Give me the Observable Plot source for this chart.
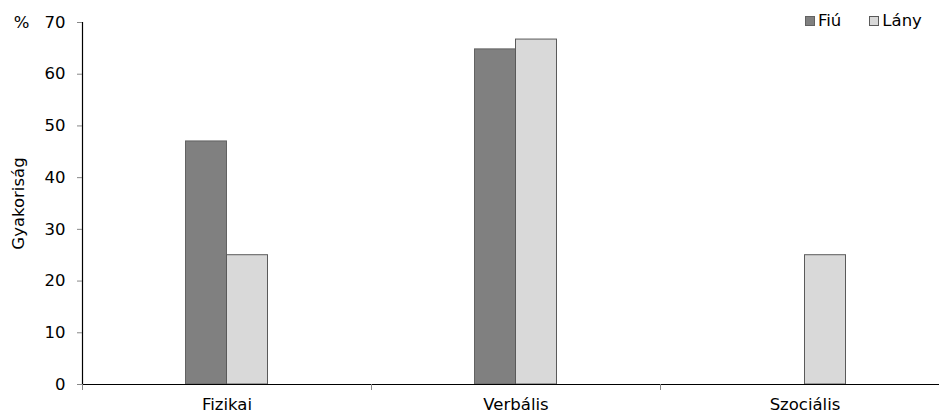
<!DOCTYPE html>
<html><head><meta charset="utf-8">
<script src="https://cdn.jsdelivr.net/npm/d3@7"></script>
<script src="https://cdn.jsdelivr.net/npm/@observablehq/plot@0.6"></script>
<style>
body{margin:0;background:#fff;font-family:"DejaVu Sans",sans-serif;}
#wrap{position:relative;width:939px;height:418px;overflow:hidden;}
.legend{position:absolute;top:12px;left:805px;display:flex;font-size:16.5px;line-height:18px;color:#000;}
.legend .item{display:flex;align-items:center;margin-right:28px;}
.legend .sw{width:10px;height:10px;margin-right:3px;box-sizing:border-box;}
</style></head><body><div id="wrap"></div>
<script>
const categories = ["Fizikai", "Verbális", "Szociális"];
const series = ["Fiú", "Lány"];
const fiuValues = [47, 64.8, 0];
const lanyValues = [25, 66.7, 25];
const yTicks = [0, 10, 20, 30, 40, 50, 60, 70];
const fills = {"Fiú": "#808080", "Lány": "#d9d9d9"};
const strokes = {"Fiú": "#626262", "Lány": "#5a5a5a"};

const data = categories.flatMap((c, i) => [
  {category: c, sex: "Fiú", value: fiuValues[i]},
  {category: c, sex: "Lány", value: lanyValues[i]}
]);

const W = 939, H = 418;
const xRange = [82, 949];
const step = (xRange[1] - xRange[0]) / categories.length;
const groupWidth = 82;
const pin = 1 - groupWidth / step;

const chart = Plot.plot({
  width: W, height: H,
  marginLeft: 82, marginRight: 0, marginTop: 22, marginBottom: 34,
  style: {fontFamily: "DejaVu Sans", fontSize: "16.5px", color: "#000", background: "#fff"},
  x: {domain: categories, range: xRange, paddingInner: pin, paddingOuter: pin / 2, round: false},
  y: {domain: [0, 70]},
  marks: [
    Plot.barY(data.filter(d => d.sex === "Fiú" && d.value > 0), {x: "category", y: "value", fill: fills["Fiú"], stroke: strokes["Fiú"], strokeWidth: 1, insetRight: groupWidth / 2}),
    Plot.barY(data.filter(d => d.sex === "Lány" && d.value > 0), {x: "category", y: "value", fill: fills["Lány"], stroke: strokes["Lány"], strokeWidth: 1, insetLeft: groupWidth / 2}),
    Plot.ruleY([0], {stroke: "#000", strokeWidth: 1.2}),
    Plot.ruleX([categories[0]], {x: d => d, dx: -step / 2, y1: 0, y2: 70, stroke: "#000", strokeWidth: 1.2}),
    Plot.ruleX(categories, {x: d => d, dx: -step / 2, y1: 0, y2: 0, insetTop: 0, insetBottom: -6, stroke: "#888"}),
    Plot.axisY({ticks: yTicks, tickSize: 5, tickPadding: 12, stroke: "#888", label: null, fill: "#000"}),
    Plot.axisX({tickSize: 0, tickPadding: 14, label: null, fill: "#000"}),
    Plot.text(["Gyakoriság"], {frameAnchor: "left", dx: -64, rotate: -90, textAnchor: "middle", lineAnchor: "middle", fill: "#000"}),
    Plot.text(["%"], {frameAnchor: "top-left", dx: -61, textAnchor: "middle", lineAnchor: "middle", fill: "#000"})
  ]
});

const wrap = document.getElementById("wrap");
wrap.appendChild(chart);
const legend = document.createElement("div");
legend.className = "legend";
for (const s of series) {
  const item = document.createElement("div");
  item.className = "item";
  const sw = document.createElement("span");
  sw.className = "sw";
  sw.style.background = fills[s];
  sw.style.border = "1px solid " + strokes[s];
  const t = document.createElement("span");
  t.textContent = s;
  item.appendChild(sw); item.appendChild(t);
  legend.appendChild(item);
}
wrap.appendChild(legend);
</script></body></html>
